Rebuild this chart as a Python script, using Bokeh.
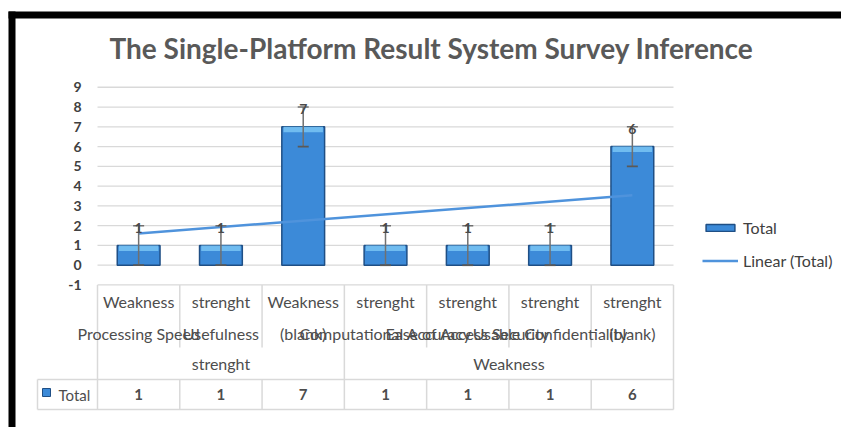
from bokeh.plotting import figure
from bokeh.models import (Range1d, LinearAxis, FixedTicker, ColumnDataSource,
                          Legend, LegendItem, Label, BoxAnnotation)
from bokeh.embed import file_html
from bokeh.resources import INLINE
from bokeh.core.properties import value
import numpy as np

# ---------------- data ----------------
title_text = "The Single-Platform Result System Survey Inference"
inner_labels = ["Weakness", "strenght", "Weakness", "strenght", "strenght", "strenght", "strenght"]
middle_labels = ["Processing Speed", "Usefulness", "(blank)", "Computational Accuracy",
                 "Ease of Access Security", "Usable Confidentiality", "(blank)"]
outer_groups = ["strenght", "Weakness"]
outer_counts = [3, 4]
totals = [1, 1, 7, 1, 1, 1, 6]
error_amount = [1, 1, 1, 1, 1, 1, 1]
y_ticks = [-1, 0, 1, 2, 3, 4, 5, 6, 7, 8, 9]
series_name = "Total"
trend_name = "Linear (Total)"

# ---------------- layout (pixels inside the figure) ----------------
W, H = 841, 427
n = len(totals)
PL, PR = 97.0, 673.0          # plot area left/right
PX = (PR - PL) / n
Y0, PY = 264.7, 19.77         # pixel row of value 0, pixels per unit


def dx(fx):
    return 0.5 + (fx - PL) / PX


def dy(fy):
    return (Y0 - fy) / PY


FONT = "Lato"
TXT = "#4d4d4d"
GRID = "#d9d9d9"
BAR = "#3c8ad8"
BAR_DARK = "#1f4f85"
BAR_LIGHT = "#76c1f3"

p = figure(width=W, height=H, x_range=Range1d(dx(0), dx(W)), y_range=Range1d(dy(H), dy(0)),
           output_backend="svg", toolbar_location=None, x_axis_location=None,
           y_axis_location=None, min_border=0, title=None)
p.grid.visible = False
p.outline_line_color = None
p.background_fill_color = "white"
p.border_fill_color = "white"

# y axis
yaxis = LinearAxis(ticker=FixedTicker(ticks=y_ticks), fixed_location=0.5,
                   axis_line_color=None, major_tick_line_color=None,
                   minor_tick_line_color=None, major_tick_out=0, major_tick_in=0,
                   major_label_standoff=16, major_label_text_font=FONT,
                   major_label_text_font_size="14px", major_label_text_font_style="bold",
                   major_label_text_color="#404040",
                   major_label_overrides={t: str(t) for t in y_ticks})
p.add_layout(yaxis, "left")

# gridlines across the plot area
p.segment(x0=0.5, x1=n + 0.5, y0=y_ticks, y1=y_ticks, line_color=GRID, line_width=1.3)

xs = list(range(1, n + 1))
src = ColumnDataSource(dict(
    x=xs, total=totals,
    lower=[t - e for t, e in zip(totals, error_amount)],
    upper=[t + e for t, e in zip(totals, error_amount)],
    band=[t - 5.5 / PY for t in totals],
    label_y=[t + e - 0.12 for t, e in zip(totals, error_amount)],
    label=[str(t) for t in totals],
))

bars = p.vbar(x="x", top="total", bottom=0, width=0.52, source=src,
              fill_color=BAR, line_color=BAR_DARK, line_width=1.5)
p.vbar(x="x", top="total", bottom="band", width=0.48, source=src,
       fill_color=BAR_LIGHT, line_color=None, fill_alpha=0.9)

# linear trend
slope, intercept = np.polyfit(xs, totals, 1)
tx = [xs[0], xs[-1]]
trend = p.line(x=tx, y=[slope * v + intercept for v in tx], line_color="#4f93dc", line_width=2.5)

# error bars
p.segment(x0="x", x1="x", y0="lower", y1="upper", source=src, line_color="#707070", line_width=1.5)
p.scatter(x="x", y="lower", marker="dash", size=11, source=src, line_color="#595959", line_width=1.8)
p.scatter(x="x", y="upper", marker="dash", size=11, source=src, line_color="#707070", line_width=1.5)

# data labels
p.text(x="x", y="label_y", text="label", source=src, text_align="center", text_baseline="middle",
       text_font=value(FONT), text_font_size="14px", text_font_style="bold", text_color="#4a4a4a")

# ---------------- data table ----------------
top_y = dy(284.5)
mid_sep = dy(347.0)
row_line = dy(379.0)
bot_line = dy(409.0)
left_x = dx(37.0)
x0s, x1s, y0s, y1s = [], [], [], []
for yy in (row_line, bot_line):
    x0s.append(left_x); x1s.append(n + 0.5); y0s.append(yy); y1s.append(yy)
x0s.append(left_x); x1s.append(left_x); y0s.append(row_line); y1s.append(bot_line)
group_bounds = set(np.cumsum([0] + outer_counts).tolist())
for k in range(n + 1):
    bx = 0.5 + k
    if k in group_bounds:
        x0s.append(bx); x1s.append(bx); y0s.append(top_y); y1s.append(bot_line)
    else:
        x0s += [bx, bx]; x1s += [bx, bx]; y0s += [top_y, row_line]; y1s += [mid_sep, bot_line]
p.segment(x0=x0s, x1=x1s, y0=y0s, y1=y1s, line_color=GRID, line_width=1.5)

tstyle = dict(text_align="center", text_baseline="middle", text_font=value(FONT),
              text_font_size="16px", text_color=TXT)
p.text(x=xs, y=[dy(300.7)] * n, text=inner_labels, **tstyle)
p.text(x=xs, y=[dy(332.7)] * n, text=middle_labels, **tstyle)
starts = np.cumsum([0] + outer_counts[:-1])
gx = [1 + s + (c - 1) / 2 for s, c in zip(starts, outer_counts)]
p.text(x=gx, y=[dy(363.3)] * len(gx), text=outer_groups, **tstyle)
p.text(x=xs, y=[dy(394.0)] * n, text=[str(t) for t in totals],
       **{**tstyle, "text_font_style": "bold", "text_font_size": "15px"})
p.scatter(x=[dx(46.0)], y=[dy(392.0)], marker="square", size=8, fill_color=BAR, line_color=BAR_DARK)
p.text(x=[dx(58.0)], y=[dy(394.0)], text=[series_name],
       **{**tstyle, "text_align": "left", "text_font_size": "15px"})

# ---------------- legend ----------------
legend = Legend(items=[LegendItem(label=series_name, renderers=[bars]),
                       LegendItem(label=trend_name, renderers=[trend])],
                location=(702, 157), glyph_width=36, glyph_height=9, label_height=20,
                label_standoff=5, spacing=13, padding=0, margin=0,
                border_line_color=None, background_fill_alpha=0,
                label_text_font=FONT, label_text_font_size="16px", label_text_color="#404040")
p.add_layout(legend)

# ---------------- title & frame decoration ----------------
p.add_layout(Label(x=431, y=H - 47, x_units="screen", y_units="screen", text=title_text,
                   text_align="center", text_baseline="middle", text_font=FONT,
                   text_font_size="28px", text_font_style="bold", text_color="#595959"))
p.add_layout(BoxAnnotation(left=8, right=15, bottom=0, top=H - 11, left_units="screen",
                           right_units="screen", top_units="screen", bottom_units="screen",
                           fill_color="black", fill_alpha=1, line_color=None))
p.add_layout(BoxAnnotation(left=8, right=W, bottom=H - 18, top=H - 11, left_units="screen",
                           right_units="screen", top_units="screen", bottom_units="screen",
                           fill_color="black", fill_alpha=1, line_color=None))

open("out.html", "w").write(file_html(p, INLINE))
